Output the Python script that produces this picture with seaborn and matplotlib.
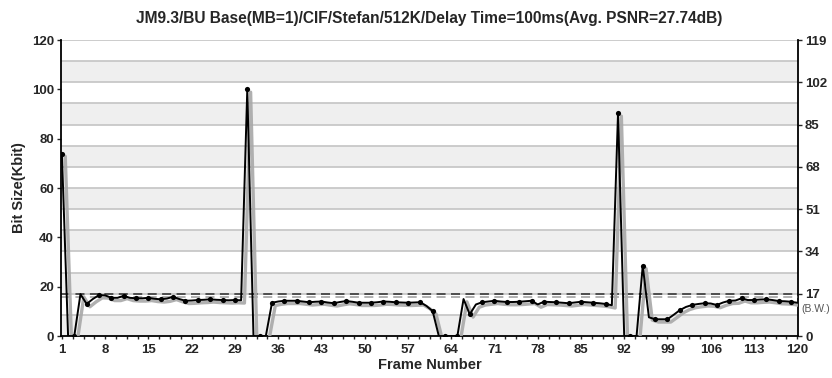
import numpy as np
import pandas as pd
import seaborn as sns
import matplotlib
matplotlib.use('Agg')
import matplotlib.pyplot as plt
import matplotlib.patheffects as pe
from matplotlib.ticker import FixedLocator

# frame-by-frame bit size (Kbit)
frames = list(range(1, 121))
bits = [
    74.0, 0.0, 0.0, 17.0, 13.0, 15.0, 16.6, 16.5, 15.5, 15.5,
    16.3, 15.5, 15.3, 15.3, 15.5, 15.1, 14.9, 15.2, 15.9, 15.0,
    14.3, 14.4, 14.6, 14.7, 14.9, 14.7, 14.6, 14.5, 14.6, 14.5,
    100.0, 0.0, 0.0, 0.0, 13.5, 14.0, 14.3, 14.3, 14.3, 14.0,
    13.7, 13.9, 14.0, 13.6, 13.3, 13.8, 14.2, 13.9, 13.5, 13.5,
    13.5, 13.7, 14.0, 13.9, 13.7, 13.6, 13.5, 13.6, 13.7, 12.2,
    10.1, 0.0, 0.0, 0.0, 0.0, 15.0, 8.8, 12.8, 13.7, 14.0,
    14.3, 14.0, 13.8, 13.8, 13.9, 14.1, 14.3, 12.8, 13.9, 13.8,
    13.7, 13.5, 13.3, 13.6, 13.9, 13.7, 13.5, 13.3, 13.0, 12.5,
    90.3, 0.0, 0.0, 0.0, 28.5, 7.6, 6.8, 6.8, 6.8, 8.6,
    10.5, 11.8, 12.6, 13.0, 13.3, 13.2, 12.6, 13.6, 14.3, 14.4,
    15.3, 14.6, 14.6, 14.8, 14.9, 14.6, 14.2, 14.1, 13.9, 13.5,
]
xtick_labels = list(range(1, 121, 7))
right_ticks = list(range(0, 120, 17))
bandwidth = 17.0      # right axis units (B.W.)
avg_bits = 15.9       # left axis units, light dashed line

title = 'JM9.3/BU Base(MB=1)/CIF/Stefan/512K/Delay Time=100ms(Avg. PSNR=27.74dB)'

sns.set_style('white')
plt.rcParams['font.family'] = ['Liberation Sans', 'DejaVu Sans']

df = pd.DataFrame({'frame': frames, 'bits': bits})
dots = df[df['frame'] % 2 == 1]   # markers on every other frame

fig = plt.figure(figsize=(8.32, 3.78), dpi=100)
ax = fig.add_axes([0.0733, 0.111, 0.886, 0.783])
ax2 = ax.twinx()

# background bands + grid on the right-axis scale (every 8.5)
ax2.set_ylim(0, 119)
levels = np.arange(0, 119.01, 8.5)
for i in range(len(levels) - 1):
    if i % 2 == 0:
        ax2.axhspan(levels[i], levels[i + 1], color='#efefef', lw=0, zorder=0)
for lv in levels[1:]:
    ax2.axhline(lv, color='#c4c4c4', lw=1.2, zorder=1)
ax2.axhline(bandwidth, color='#444444', lw=1.3, ls=(0, (5, 3)), zorder=2)
ax2.set_yticks(right_ticks)
ax2.set_yticklabels([str(t) for t in right_ticks], fontweight='bold', fontsize=9.5)
ax2.text(1.004, 11.0 / 119, '(B.W.)', transform=ax2.transAxes, fontsize=7.5,
         color='#555555', va='center', ha='left')

ax.set_zorder(ax2.get_zorder() + 1)
ax.patch.set_visible(False)

ax.axhline(avg_bits, color='#aaaaaa', lw=1.3, ls=(0, (5, 3)), zorder=2)

sns.lineplot(x='frame', y='bits', data=df, ax=ax, color='black', lw=1.4,
             path_effects=[pe.SimpleLineShadow(offset=(2.4, -2.0), shadow_color='#a8a8a8',
                                               alpha=0.9, linewidth=2.4),
                           pe.Normal()],
             zorder=5)
sns.scatterplot(x='frame', y='bits', data=dots, ax=ax, color='black', s=14,
                linewidth=0, zorder=6)

ax.set_xlim(0.85, 120.15)
ax.set_ylim(0, 120)
ax.set_yticks(range(0, 121, 20))
ax.set_yticklabels([str(t) for t in range(0, 121, 20)], fontweight='bold', fontsize=9.5)
ax.xaxis.set_major_locator(FixedLocator(xtick_labels))
ax.set_xticklabels([str(t) for t in xtick_labels], fontweight='bold', fontsize=9.5)
ax.xaxis.set_minor_locator(FixedLocator(np.arange(1, 120.1, 1.75)))
ax.tick_params(axis='x', which='both', direction='out', bottom=True, length=2.5, width=1, pad=3)
ax.tick_params(axis='y', left=True, direction='out', length=3, width=1, pad=2)
ax2.tick_params(axis='y', right=True, direction='out', length=3, width=1, pad=2)

for a in (ax, ax2):
    a.spines['top'].set_visible(False)
    for s in ('left', 'bottom', 'right'):
        a.spines[s].set_color('black')
        a.spines[s].set_linewidth(1.3)
ax.spines['right'].set_visible(False)
ax2.spines['left'].set_visible(False)
ax2.spines['bottom'].set_visible(False)

ax.set_xlabel('Frame Number', fontweight='bold', fontsize=10.5, labelpad=2)
ax.set_ylabel('Bit Size(Kbit)', fontweight='bold', fontsize=10.5, labelpad=4)
ax.set_title(title, fontweight='bold', fontsize=11.2, pad=12)

fig.savefig('out.png', dpi=100)
